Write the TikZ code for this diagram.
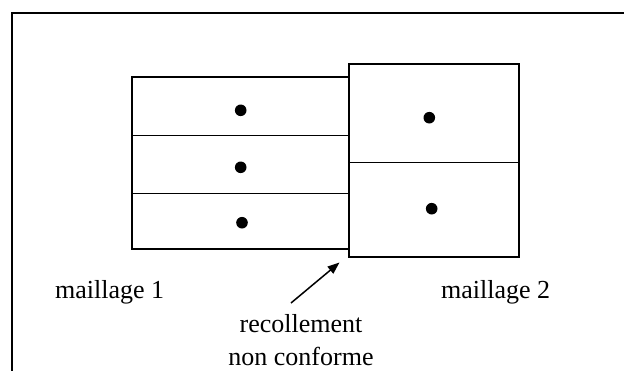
\documentclass[tikz,border=0pt]{standalone}
\usepackage{fontspec}
\setmainfont{Liberation Serif}
\usetikzlibrary{arrows.meta,positioning}

\tikzset{
  cell/.style={line width=1.7pt},
  label/.style={font=\fontsize{26}{30}\selectfont,inner sep=0pt},
  dot/.style={fill=black}
}

\begin{document}
\begin{tikzpicture}[x=1pt,y=-1pt]
   \useasboundingbox (0,0) rectangle (624,370);
   % cadre
   \draw[line width=2pt] (11.5,372) -- (11.5,12.5) -- (626,12.5);
   % maillage 1
   \draw[cell] (132,77) rectangle (349,249);
   \draw[cell] (132,135.5) -- (349,135.5);
   \draw[cell] (132,193.5) -- (349,193.5);
   % maillage 2
   \draw[cell] (349,64) rectangle (519,257);
   \draw[cell] (349,162.5) -- (519,162.5);
   % centres des mailles
   \foreach \x/\y in {240.7/110.3, 240.7/167.3, 242/222.7, 429.3/117.7, 431.7/208.7}
    \fill[dot] (\x,\y) circle(5.8);
   % textes
   \node[label,anchor=base west] (m1) at (55,298.5) {maillage 1};
   \node[label,anchor=base west] (m2) at (441,298.5) {maillage 2};
   \node[label,anchor=base] (recol) at (301,332) {recollement};
   \node[label,anchor=base] (nonconf) at ([yshift=-33pt]recol.base) {non conforme};
   % fleche
   \coordinate (tail) at (291,303);
   \coordinate (tip) at (339.5,262.5);
   \draw[line width=1.5pt,-{Triangle[length=12pt,width=9pt]}] (tail) -- (tip);
\end{tikzpicture}
\end{document}
